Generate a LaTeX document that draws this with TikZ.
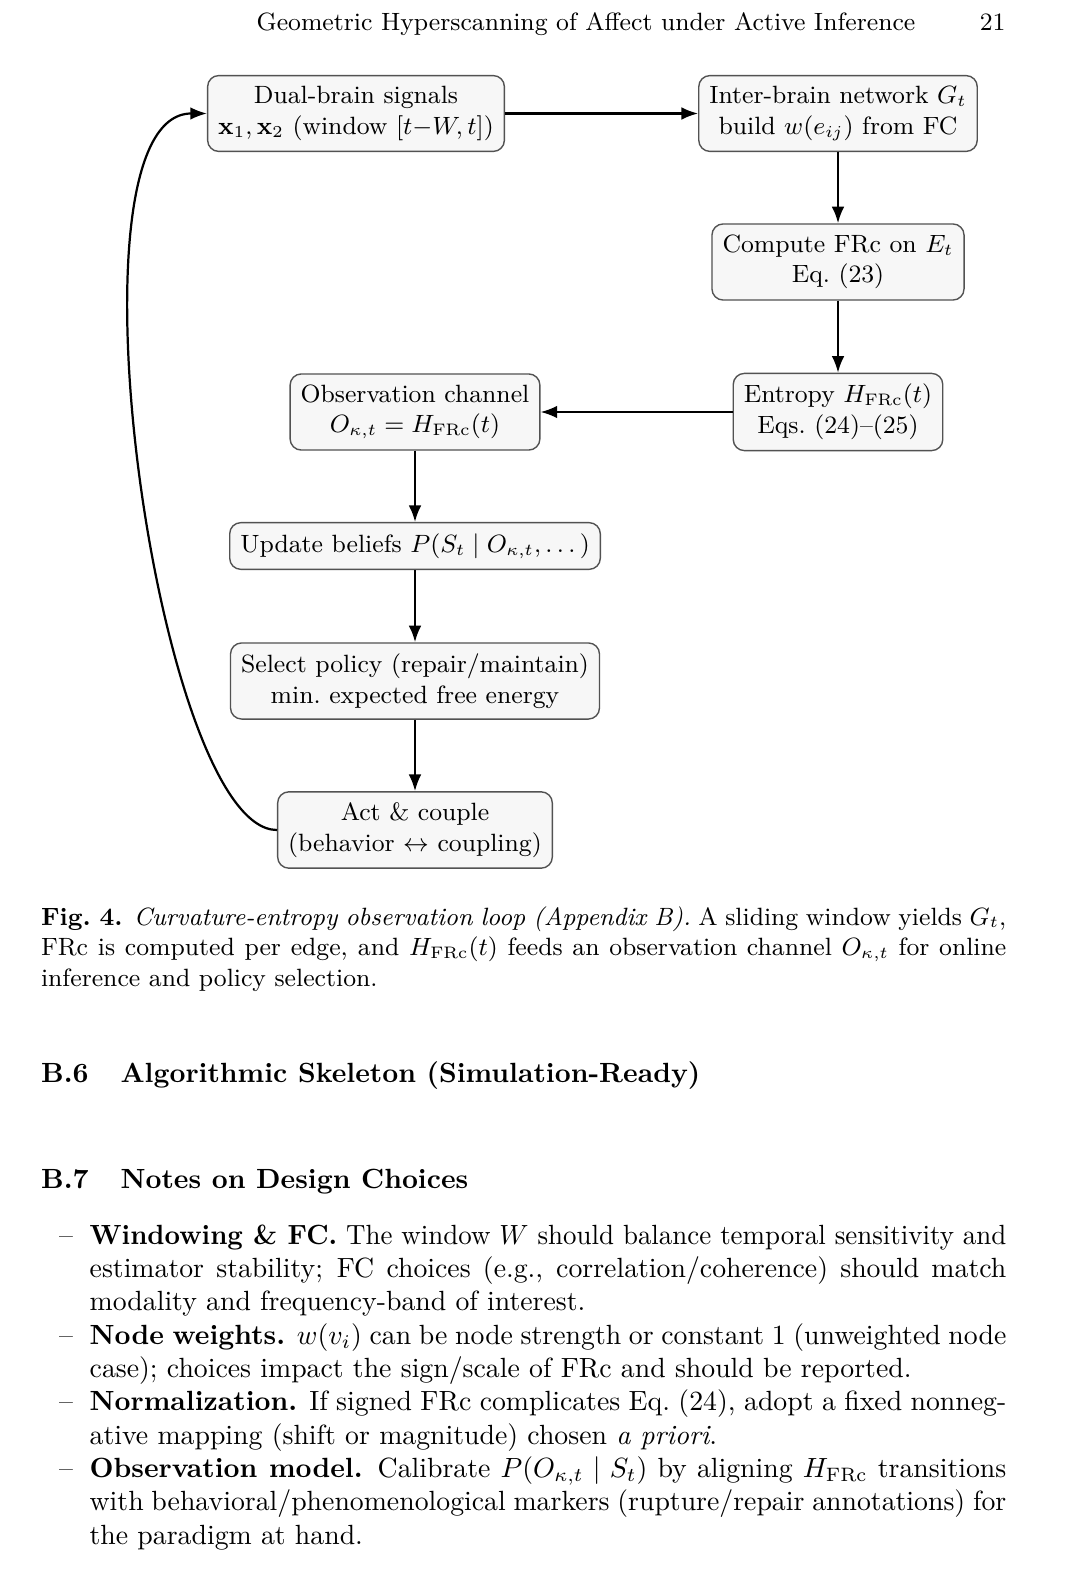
\documentclass[tikz,border=0pt]{standalone}
\usepackage{amsmath}
\usepackage{graphicx}
\usetikzlibrary{arrows.meta}
\begin{document}
\begin{tikzpicture}[x=0.36pt,y=-0.36pt,
  box/.style={draw=black!68, fill=black!3, rounded corners=4pt, line width=0.5pt,
    align=center, font=\small, inner xsep=3.8pt, inner ysep=3.9pt},
  arr/.style={-{Latex[length=6pt,width=4.6pt]}, line width=0.8pt},
  para/.style={anchor=base west, inner sep=0pt, align=justify, text width=347.5pt},
  txt/.style={inner sep=0pt}]
\useasboundingbox (0,0) rectangle (1080,1590);
\fill[white] (0,0) rectangle (1080,1590);

% running head
\node[txt, anchor=base, font=\small] (head) at (586,31) {Geometric Hyperscanning of Affect under Active Inference};
\node[txt, anchor=base east, font=\small] (pg) at (1006,31) {21};

% diagram nodes
\node[box] (n1) at (356,113.5) {Dual-brain signals\\ $\mathbf{x}_1,\mathbf{x}_2$ (window $[t{-}W,t]$)};
\node[box] (n2) at (838,113.5) {Inter-brain network $G_t$\\ build $w(e_{ij})$ from FC};
\node[box] (n3) at (838,262) {Compute FRc on $E_t$\\ Eq.~(23)};
\node[box] (n4) at (838,412) {Entropy $H_{\mathrm{FRc}}(t)$\\ Eqs.~(24)--(25)};
\node[box] (n5) at (415,412) {Observation channel\\ $O_{\kappa,t}=H_{\mathrm{FRc}}(t)$};
\node[box] (n6) at (415,546) {Update beliefs $P(S_t\mid O_{\kappa,t},\dots)$};
\node[box] (n7) at (415,681) {Select policy (repair/maintain)\\ min.\ expected free energy};
\node[box] (n8) at (415,830) {Act \& couple\\ (behavior $\leftrightarrow$ coupling)};

% connectors
\draw[arr] (n1) -- (n2);
\draw[arr] (n2) -- (n3);
\draw[arr] (n3) -- (n4);
\draw[arr] (n4) -- (n5);
\draw[arr] (n5) -- (n6);
\draw[arr] (n6) -- (n7);
\draw[arr] (n7) -- (n8);
\draw[arr] (n8.west) .. controls +(-120,0) and +(-150,0) .. (n1.west);

% caption
\node[para, font=\small] (cap) at (40.5,925) {\textbf{Fig.~4.} \emph{Curvature-entropy observation loop (Appendix~B).} A sliding window yields $G_t$,\linebreak
FRc is computed per edge, and $H_{\mathrm{FRc}}(t)$ feeds an observation channel $O_{\kappa,t}$ for online\linebreak
inference and policy selection.};

% headings
\node[txt, anchor=base west, font=\bfseries] (h6) at (40.5,1082) {B.6\hspace{11.5pt}Algorithmic Skeleton (Simulation-Ready)};
\node[txt, anchor=base west, font=\bfseries] (h7) at (40.5,1188) {B.7\hspace{11.5pt}Notes on Design Choices};

% list
\node[para] (list) at (40.5,1244) {%
\noindent\hangindent=17.5pt\hangafter=0\llap{--\hspace{6pt}}\resizebox{\dimexpr\hsize-17.5pt\relax}{\height}{\textbf{Windowing \& FC.} The window $W$ should balance temporal sensitivity and}\linebreak
estimator stability; FC choices (e.g., correlation/coherence) should match\linebreak
modality and frequency-band of interest.\par
\noindent\hangindent=17.5pt\hangafter=0\llap{--\hspace{6pt}}\textbf{Node weights.} $w(v_i)$ can be node strength or constant 1 (unweighted node\linebreak
case); choices impact the sign/scale of FRc and should be reported.\par
\noindent\hangindent=17.5pt\hangafter=0\llap{--\hspace{6pt}}\textbf{Normalization.} If signed FRc complicates Eq.~(24), adopt a fixed nonneg-\linebreak
ative mapping (shift or magnitude) chosen \emph{a priori}.\par
\noindent\hangindent=17.5pt\hangafter=0\llap{--\hspace{6pt}}\textbf{Observation model.} Calibrate $P(O_{\kappa,t}\mid S_t)$ by aligning $H_{\mathrm{FRc}}$ transitions\linebreak
with behavioral/phenomenological markers (rupture/repair annotations) for\linebreak
the paradigm at hand.\par};
\end{tikzpicture}
\end{document}
